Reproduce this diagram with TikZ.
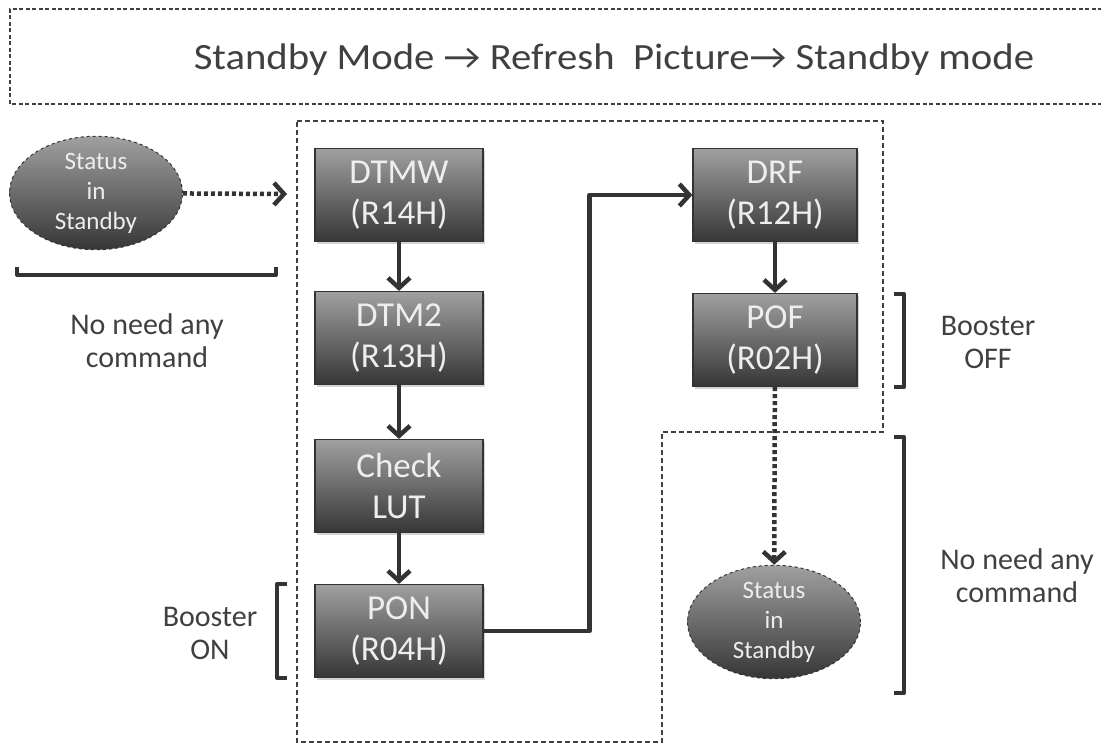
\documentclass[tikz,border=0pt]{standalone}
\usepackage{fontspec}
\setmainfont{Carlito}
\usetikzlibrary{arrows.meta,shadows,shapes.geometric}
\definecolor{ink}{HTML}{333333}
\definecolor{txt}{HTML}{404040}
\definecolor{boxtop}{HTML}{A0A0A0}
\definecolor{boxbot}{HTML}{363636}
\definecolor{boxtxt}{HTML}{EEEEEE}
\begin{document}
\begin{tikzpicture}[x=1pt,y=-1pt,
  cmdbox/.style={draw=ink, line width=1.2pt, top color=boxtop, bottom color=boxbot,
    minimum width=168pt, minimum height=93pt, inner sep=0pt, text=boxtxt, align=center,
    font=\fontsize{35}{41}\selectfont,
    drop shadow={opacity=0.35, shadow xshift=1.5pt, shadow yshift=-2.5pt}},
  statnode/.style={ellipse, draw=ink, dashed, line width=1pt, top color=boxtop, bottom color=boxbot,
    minimum width=173pt, minimum height=112pt, inner sep=0pt, text=boxtxt, align=center,
    font=\fontsize{25}{30}\selectfont},
  flow/.style={draw=ink, line width=4.5pt, -{Straight Barb[length=10pt,width=22pt]}},
  dotflow/.style={draw=ink, line width=4.5pt, dash pattern=on 4pt off 3pt,
    -{Straight Barb[length=10pt,width=22pt]}},
  brk/.style={draw=ink, line width=4pt, line join=round},
  lbl/.style={text=txt, align=center, font=\fontsize{30}{33}\selectfont},
  frame/.style={draw=txt, line width=1.2pt, dash pattern=on 5pt off 3pt},
  topframe/.style={draw=txt, line width=1.5pt, dash pattern=on 4pt off 2.5pt}
]
\useasboundingbox (0,0) rectangle (1101,746);
\clip (0,0) rectangle (1101,746);

% frames
\draw[topframe] (1115,9) -- (10,9) -- (10,104) -- (1115,104);
\draw[frame] (297,121) -- (883,121) -- (883,432) -- (662,432) -- (662,742) -- (297,742) -- cycle;

% title
\node[text=txt, font=\fontsize{37}{40}\selectfont] (title) at (614,60)
  {\scalebox{1.1}[1]{Standby Mode → Refresh\ \ Picture→ Standby mode}};

% nodes
\node[statnode] (s1) at (96,193) {Status\\in\\Standby};
\node[cmdbox] (dtmw) at (399,195) {DTMW\\(R14H)};
\node[cmdbox] (dtm2) at (399,338) {DTM2\\(R13H)};
\node[cmdbox] (lut)  at (399,486) {Check\\LUT};
\node[cmdbox] (pon)  at (399,631) {PON\\(R04H)};
\node[cmdbox, minimum width=164pt] (drf) at (775,195) {DRF\\(R12H)};
\node[cmdbox, minimum width=164pt] (pof) at (775,340) {POF\\(R02H)};
\node[statnode] (s2) at (774,622) {Status\\in\\Standby};

% labels
\node[lbl] (nl) at (147,341) {No need any\\command};
\node[lbl] (bon) at (210,633) {Booster\\ON};
\node[lbl] (boff) at (988,342) {Booster\\OFF};
\node[lbl] (nr) at (1017,576) {No need any\\command};

% brackets
\draw[brk] (17,267) -- (17,275) -- (276,275) -- (276,267);
\draw[brk] (287,584) -- (277,584) -- (277,678) -- (287,678);
\draw[brk] (894,294) -- (904,294) -- (904,387) -- (894,387);
\draw[brk] (894,437) -- (904,437) -- (904,693) -- (894,693);

% connectors
\coordinate (in1) at (287,194);
\draw[dotflow] (s1) -- (in1);
\draw[flow] (dtmw) -- (dtm2);
\draw[flow] (dtm2) -- (lut);
\draw[flow] (lut) -- (pon);
\draw[flow, line join=round] (pon.east) -- ++(106,0) |- (drf.west);
\draw[flow] (drf) -- (pof);
\draw[dotflow] (pof) -- (s2);
\end{tikzpicture}
\end{document}
